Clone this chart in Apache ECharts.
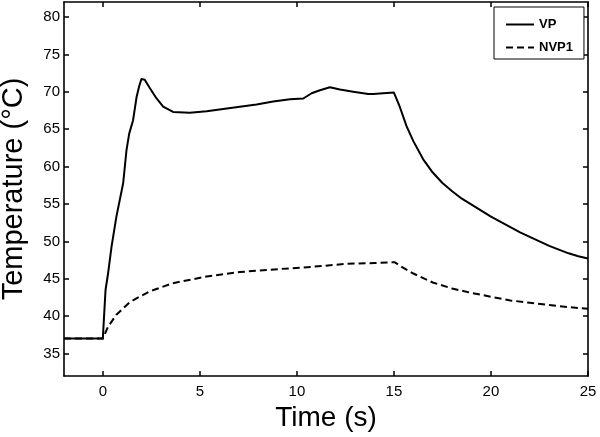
<!DOCTYPE html>
<html>
<head>
<meta charset="utf-8">
<script src="https://cdn.jsdelivr.net/npm/echarts@6/dist/echarts.min.js"></script>
<style>
html,body{margin:0;padding:0;background:#fff;}
#chart{width:600px;height:437px;}
</style>
</head>
<body>
<div id="chart"></div>
<script>
// ---- data ----
const seriesNames = ['VP', 'NVP1'];
const xTicks = [0, 5, 10, 15, 20, 25];
const yTicks = [35, 40, 45, 50, 55, 60, 65, 70, 75, 80];

const vpTime = [-2, 0, 0.05, 0.14, 0.27, 0.45, 0.70, 1.05, 1.22, 1.36, 1.56, 1.74, 1.87, 1.99, 2.16, 2.42, 2.77, 3.11, 3.62, 4.48, 5.35, 6.2, 7.06, 7.92, 8.78, 9.64, 10.33, 10.76, 11.19, 11.7, 12.22, 12.9, 13.68, 13.93, 14.45, 15.0, 15.3, 15.65, 16.0, 16.5, 17.0, 17.5, 18.0, 18.5, 19.0, 19.5, 20.0, 20.5, 21.0, 21.5, 22.0, 22.5, 23.0, 23.5, 24.0, 24.5, 25.0];
const vpTemp = [37, 37, 37.0, 43.5, 45.7, 49.3, 53.3, 57.8, 62.2, 64.4, 66.2, 69.3, 70.7, 71.7, 71.6, 70.5, 69.1, 68.0, 67.3, 67.2, 67.4, 67.7, 68.0, 68.3, 68.7, 69.0, 69.1, 69.8, 70.2, 70.6, 70.3, 70.0, 69.7, 69.7, 69.8, 69.9, 68.0, 65.4, 63.4, 61.0, 59.2, 57.8, 56.7, 55.7, 54.9, 54.1, 53.3, 52.6, 51.9, 51.2, 50.6, 50.0, 49.4, 48.9, 48.4, 48.0, 47.7];

const nvpTime = [-2, 0, 0.05, 0.27, 0.7, 1.4, 2.4, 3.6, 5.35, 7.06, 9.1, 10.8, 12.56, 14.0, 14.8, 15.05, 15.4, 16.0, 17.0, 18.0, 19.0, 20.0, 21.0, 22.0, 23.0, 24.0, 25.0];
const nvpTemp = [37, 37, 37.1, 38.6, 40.2, 41.9, 43.3, 44.4, 45.3, 45.9, 46.3, 46.6, 47.0, 47.1, 47.2, 47.2, 46.6, 45.7, 44.5, 43.7, 43.1, 42.6, 42.1, 41.8, 41.5, 41.2, 41.0];

const zip = (xs, ys) => xs.map((x, i) => [x, ys[i]]);

const FONT = '"Liberation Sans", Arial, Helvetica, sans-serif';
const chart = echarts.init(document.getElementById('chart'), null, {renderer: 'canvas'});

const axisLineStyle = {show: true, onZero: false, lineStyle: {color: '#000', width: 1.6}};
const tickStyle = (vals) => ({show: true, inside: true, length: 5, lineStyle: {color: '#000', width: 1.5}, customValues: vals});

chart.setOption({
  animation: false,
  backgroundColor: '#fff',
  textStyle: {fontFamily: FONT},
  grid: {left: 64, right: 12, top: 2, bottom: 61, containLabel: false, outerBoundsMode: 'none'},
  legend: {
    data: seriesNames,
    orient: 'vertical',
    left: 494,
    top: 7,
    padding: [11, 11, 5, 11],
    itemWidth: 28,
    itemHeight: 14,
    itemGap: 10,
    backgroundColor: '#fff',
    borderColor: '#000',
    borderWidth: 1,
    borderRadius: 0,
    itemStyle: {color: 'transparent', borderWidth: 0, opacity: 0},
    textStyle: {fontFamily: FONT, fontSize: 13, fontWeight: 'bold', color: '#000'},
    z: 10
  },
  xAxis: [{
    type: 'value', position: 'bottom', min: -2, max: 25,
    axisLine: axisLineStyle,
    axisTick: tickStyle(xTicks),
    axisLabel: {show: true, color: '#000', fontSize: 15, fontFamily: FONT, margin: 8, customValues: xTicks},
    splitLine: {show: false},
    name: 'Time (s)', nameLocation: 'middle', nameGap: 27,
    nameTextStyle: {fontSize: 28, color: '#000', fontFamily: FONT}
  }, {
    type: 'value', position: 'top', min: -2, max: 25,
    axisLine: axisLineStyle,
    axisTick: tickStyle(xTicks),
    axisLabel: {show: false},
    splitLine: {show: false}
  }],
  yAxis: [{
    type: 'value', position: 'left', min: 32, max: 82,
    axisLine: axisLineStyle,
    axisTick: tickStyle(yTicks),
    axisLabel: {show: true, color: '#000', fontSize: 15, fontFamily: FONT, margin: 4, customValues: yTicks},
    splitLine: {show: false},
    name: 'Temperature (°C)', nameLocation: 'middle', nameGap: 36,
    nameTextStyle: {fontSize: 29, color: '#000', fontFamily: FONT}
  }, {
    type: 'value', position: 'right', min: 32, max: 82,
    axisLine: axisLineStyle,
    axisTick: tickStyle(yTicks),
    axisLabel: {show: false},
    splitLine: {show: false}
  }],
  series: [{
    name: seriesNames[0], type: 'line', xAxisIndex: 0, yAxisIndex: 0,
    data: zip(vpTime, vpTemp),
    symbol: 'none', smooth: false,
    lineStyle: {color: '#000', width: 2, type: 'solid', join: 'round'},
    itemStyle: {color: '#000'}
  }, {
    name: seriesNames[1], type: 'line', xAxisIndex: 0, yAxisIndex: 0,
    data: zip(nvpTime, nvpTemp),
    symbol: 'none', smooth: false,
    lineStyle: {color: '#000', width: 2, type: [7, 4], join: 'round'},
    itemStyle: {color: '#000'}
  }]
});
</script>
</body>
</html>
